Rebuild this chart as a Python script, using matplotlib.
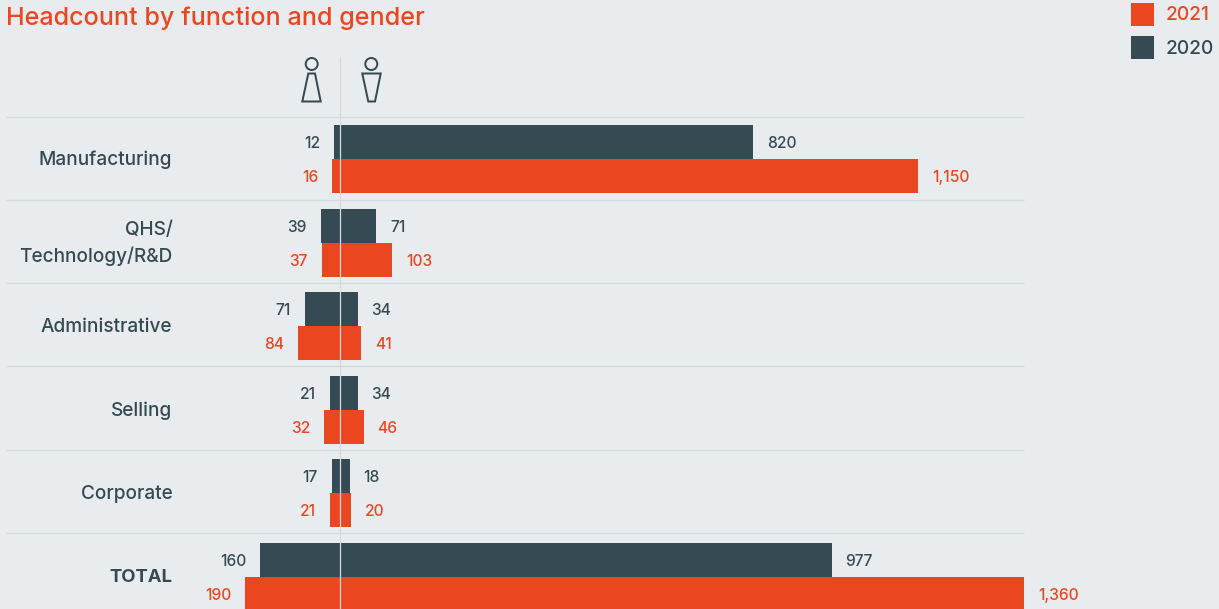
import matplotlib
matplotlib.use("Agg")
import matplotlib.pyplot as plt
from matplotlib.patches import Circle, Polygon, Rectangle

functions = ["Manufacturing", "QHS/\nTechnology/R&D", "Administrative", "Selling", "Corporate", "TOTAL"]
women_2020 = [12, 39, 71, 21, 17, 160]
men_2020 = [820, 71, 34, 34, 18, 977]
women_2021 = [16, 37, 84, 32, 21, 190]
men_2021 = [1150, 103, 41, 46, 20, 1360]
title = "Headcount by function and gender"

BG, ORANGE, DARK, RULE = "#e9ecef", "#ea4721", "#364a53", "#d5dcdf"
W, H = 1219, 609
plt.rcParams["font.family"] = ["Inter", "DejaVu Sans"]
PX_PER_UNIT = 0.5026
ZERO_PX = 340.5
ROW_PX = 83.5
FIRST_ROW_PX = 159.2
BAR_H = 34 / ROW_PX

fig = plt.figure(figsize=(W / 100, H / 100), dpi=100, facecolor=BG)
ax = fig.add_axes([0, 0, 1, 1], facecolor="none")
ax.set_xlim(-ZERO_PX / PX_PER_UNIT, (W - ZERO_PX) / PX_PER_UNIT)
ax.set_ylim((H - FIRST_ROW_PX) / ROW_PX, -FIRST_ROW_PX / ROW_PX)
ax.axis("off")

# pixel-space overlay for furniture
px = fig.add_axes([0, 0, 1, 1], facecolor="none")
px.set_xlim(0, W)
px.set_ylim(H, 0)
px.axis("off")

OFF = 14 * 0.72
for i, name in enumerate(functions):
    ax.barh(i - BAR_H / 2, men_2020[i], BAR_H, color=DARK, zorder=2)
    ax.barh(i - BAR_H / 2, -women_2020[i], BAR_H, color=DARK, zorder=2)
    ax.barh(i + BAR_H / 2, men_2021[i], BAR_H, color=ORANGE, zorder=3)
    ax.barh(i + BAR_H / 2, -women_2021[i], BAR_H, color=ORANGE, zorder=3)
    for val, sign, yy, col in [
        (men_2020[i], 1, i - BAR_H / 2, DARK),
        (women_2020[i], -1, i - BAR_H / 2, DARK),
        (men_2021[i], 1, i + BAR_H / 2, ORANGE),
        (women_2021[i], -1, i + BAR_H / 2, ORANGE),
    ]:
        ax.annotate(f"{val:,}", (sign * val, yy), xytext=(sign * OFF, 0),
                    textcoords="offset points", va="center_baseline",
                    ha="left" if sign > 0 else "right",
                    color=col, fontsize=11.2, fontweight="medium", zorder=5)
    ax.text(-(ZERO_PX - 172.5) / PX_PER_UNIT, i + 0.012, name, ha="right", va="center",
            color=DARK, fontsize=13.3 if name == "TOTAL" else 13.7,
            fontweight="bold" if name == "TOTAL" else "medium",
            linespacing=1.45, zorder=5)

for y in [117, 200, 283, 366, 450, 533]:
    px.plot([6, 1024], [y, y], color=RULE, lw=1.0, solid_capstyle="butt")
px.plot([340.2, 340.2], [57, H], color=RULE, lw=0.9, zorder=6)

px.text(6, 18, title, ha="left", va="center", color=ORANGE, fontsize=18.1, fontweight="medium")

for y, col, label in [(3, ORANGE, "2021"), (36, DARK, "2020")]:
    px.add_patch(Rectangle((1131, y), 23, 23, facecolor=col, edgecolor="none"))
    px.text(1166, y + 12.5, label, ha="left", va="center", color=col, fontsize=13.8, fontweight="medium")

# female / male pictograms
lw = 1.44
px.add_patch(Circle((311.7, 64), 6, fill=False, edgecolor=DARK, lw=lw))
px.add_patch(Polygon([[308.3, 73.5], [315, 73.5], [320.7, 101.5], [302.3, 101.5]], closed=True, fill=False, edgecolor=DARK, lw=lw))
px.add_patch(Circle((371.3, 64), 6, fill=False, edgecolor=DARK, lw=lw))
px.add_patch(Polygon([[362.3, 73.5], [380.7, 73.5], [375, 101.5], [368.3, 101.5]], closed=True, fill=False, edgecolor=DARK, lw=lw))

fig.savefig("out.png", dpi=100, facecolor=BG)
